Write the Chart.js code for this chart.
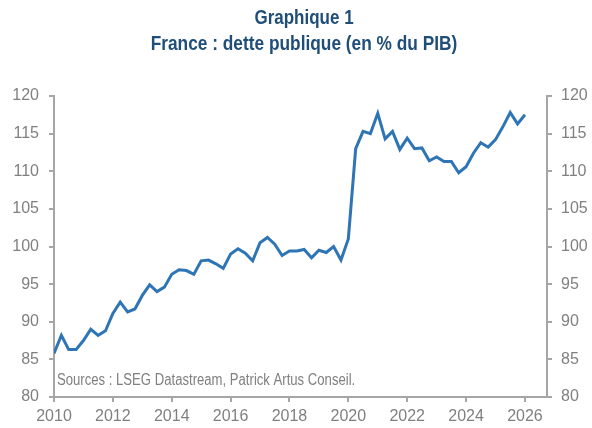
<!DOCTYPE html>
<html>
<head>
<meta charset="utf-8">
<script src="https://cdn.jsdelivr.net/npm/chart.js@4"></script>
<style>
  html, body { margin: 0; padding: 0; background: #fff; }
  #wrap { width: 592px; height: 428px; }
</style>
</head>
<body>
<div id="wrap"><canvas id="myChart" width="592" height="428"></canvas></div>
<script>
// dette publique France, % du PIB, trimestriel 2010T1 - 2026T1
const debut = 2010;
const dette = [
  85.8, 88.2, 86.3, 86.3, 87.5, 89.0, 88.2, 88.8,
  91.1, 92.6, 91.3, 91.7, 93.5, 94.9, 94.0, 94.6,
  96.3, 96.9, 96.8, 96.3, 98.1, 98.2, 97.7, 97.1,
  99.0, 99.7, 99.1, 98.1, 100.5, 101.2, 100.3, 98.8,
  99.4, 99.4, 99.6, 98.5, 99.5, 99.2, 100.0, 98.2,
  101.0, 113.0, 115.3, 115.0, 117.7, 114.3, 115.3, 112.9,
  114.4, 113.0, 113.1, 111.4, 111.9, 111.3, 111.3, 109.8,
  110.6, 112.4, 113.8, 113.2, 114.2, 115.9, 117.8, 116.3,
  117.5
];
const anneesTicks = [2010, 2012, 2014, 2016, 2018, 2020, 2022, 2024, 2026];
const yTicks = [80, 85, 90, 95, 100, 105, 110, 115, 120];

const titre = ['Graphique 1', 'France : dette publique (en % du PIB)'];
const source = 'Sources : LSEG Datastream, Patrick Artus Conseil.';

const gris = '#a6a6a6';
const grisTexte = '#808080';
const police = '"Liberation Sans", Arial, sans-serif';

const points = dette.map((v, i) => ({ x: debut + i / 4, y: v }));

// pas de police etroite installee : on compresse le texte a la main
function texteEtroit(ctx, txt, x, y, sx, align) {
  ctx.save();
  ctx.translate(x, y);
  ctx.scale(sx, 1);
  ctx.textAlign = align;
  ctx.fillText(txt, 0, 0);
  ctx.restore();
}

const textes = {
  id: 'textes',
  afterDraw(chart) {
    const ctx = chart.ctx;
    const area = chart.chartArea;
    ctx.save();
    ctx.textBaseline = 'middle';
    ctx.fillStyle = '#1f4e79';
    ctx.font = 'bold 20px ' + police;
    texteEtroit(ctx, titre[0], 304, 18, 0.85, 'center');
    texteEtroit(ctx, titre[1], 304, 44, 0.865, 'center');
    ctx.fillStyle = grisTexte;
    ctx.font = '16px ' + police;
    texteEtroit(ctx, source, area.left + 3, 381, 0.82, 'left');
    ctx.restore();
  }
};

function axeY(position, largeur, pad) {
  return {
    type: 'linear',
    position: position,
    min: 80,
    max: 120,
    afterBuildTicks: (s) => { s.ticks = yTicks.map(v => ({ value: v })); },
    afterFit: (s) => { s.width = largeur; },
    border: { display: true, color: gris, width: 2 },
    grid: { drawOnChartArea: false, drawTicks: true, tickLength: 5, color: gris, lineWidth: 2 },
    ticks: { color: grisTexte, font: { family: police, size: 16 }, padding: pad }
  };
}

new Chart(document.getElementById('myChart').getContext('2d'), {
  type: 'line',
  data: {
    datasets: [{
      data: points,
      borderColor: '#2e75b6',
      borderWidth: 3,
      pointRadius: 0,
      tension: 0,
      fill: false
    }]
  },
  options: {
    responsive: false,
    animation: false,
    layout: { padding: { top: 96, left: 0, right: 0, bottom: 0 } },
    plugins: {
      legend: { display: false },
      title: { display: false },
      tooltip: { enabled: false }
    },
    scales: {
      x: {
        type: 'linear',
        min: 2010,
        max: 2026.75,
        afterBuildTicks: (s) => { s.ticks = anneesTicks.map(v => ({ value: v })); },
        afterFit: (s) => { s.height = 31; },
        border: { display: true, color: gris, width: 2 },
        grid: { drawOnChartArea: false, drawTicks: true, tickLength: 5, color: gris, lineWidth: 2 },
        ticks: { color: grisTexte, font: { family: police, size: 16 }, padding: 5, maxRotation: 0, callback: v => String(v) }
      },
      y: axeY('left', 54, 10),
      y2: axeY('right', 45, 9)
    }
  },
  plugins: [textes]
});
</script>
</body>
</html>
